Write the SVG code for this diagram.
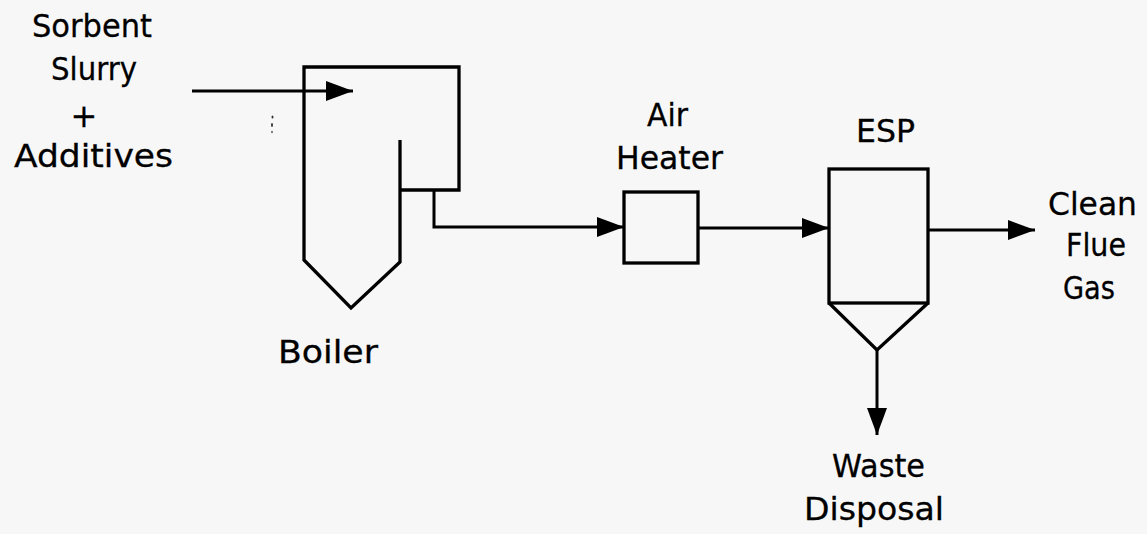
<svg xmlns="http://www.w3.org/2000/svg" width="1147" height="534" viewBox="0 0 1147 534">
<style>
.s{fill:none;stroke:#000;stroke-width:3.3;stroke-linejoin:miter}
.c{fill:none;stroke:#000;stroke-width:3}
text{font-family:"DejaVu Sans","Liberation Sans",sans-serif;font-size:32px;fill:#000;text-anchor:middle;stroke:#000;stroke-width:0.3}
</style>
<defs>
<marker id="ah" markerUnits="userSpaceOnUse" markerWidth="28" markerHeight="20" refX="27" refY="10" orient="auto">
<path d="M0,0 L27,10 L0,20 Z" fill="#000"/>
</marker>
</defs>
<rect width="1147" height="534" fill="#f7f7f7"/>

<g id="feed">
<text x="92" y="37" textLength="120" lengthAdjust="spacingAndGlyphs">Sorbent</text>
<text x="94" y="80" textLength="86" lengthAdjust="spacingAndGlyphs">Slurry</text>
<text x="84" y="127">+</text>
<text x="93.5" y="167" textLength="159" lengthAdjust="spacingAndGlyphs">Additives</text>
</g>

<g id="boiler">
<path class="s" d="M400,140 V262 L351,308 L304,260 V67 H459 V190 H400"/>
<text x="328" y="363" textLength="100" lengthAdjust="spacingAndGlyphs">Boiler</text>
<ellipse cx="272.5" cy="117" rx="1" ry="1.5" fill="#333"/>
<ellipse cx="272" cy="125" rx="1" ry="2" fill="#333"/>
<ellipse cx="272" cy="132" rx="0.8" ry="1.2" fill="#555"/>
</g>

<g id="air-heater">
<rect class="s" x="624" y="192" width="74" height="71"/>
<text x="667.5" y="126" textLength="41" lengthAdjust="spacingAndGlyphs">Air</text>
<text x="669.5" y="169" textLength="107" lengthAdjust="spacingAndGlyphs">Heater</text>
</g>

<g id="esp">
<rect class="s" x="829" y="169" width="99" height="134"/>
<path class="s" d="M829,303 L877,350 L928,303"/>
<text x="885.5" y="142" textLength="59" lengthAdjust="spacingAndGlyphs">ESP</text>
</g>

<g id="clean-flue-gas">
<text x="1092.5" y="215" textLength="89" lengthAdjust="spacingAndGlyphs">Clean</text>
<text x="1096" y="256" textLength="60" lengthAdjust="spacingAndGlyphs">Flue</text>
<text x="1089" y="299" textLength="52" lengthAdjust="spacingAndGlyphs">Gas</text>
</g>

<g id="waste-disposal">
<text x="878.5" y="477" textLength="93" lengthAdjust="spacingAndGlyphs">Waste</text>
<text x="874" y="520" textLength="140" lengthAdjust="spacingAndGlyphs">Disposal</text>
</g>

<g id="connectors">
<path class="c" d="M192,91 H353" marker-end="url(#ah)"/>
<path class="c" d="M434,190 V227 H624" marker-end="url(#ah)"/>
<path class="c" d="M698,228 H829" marker-end="url(#ah)"/>
<path class="c" d="M928,230 H1035" marker-end="url(#ah)"/>
<path class="c" d="M877,350 V435" marker-end="url(#ah)"/>
</g>
</svg>
